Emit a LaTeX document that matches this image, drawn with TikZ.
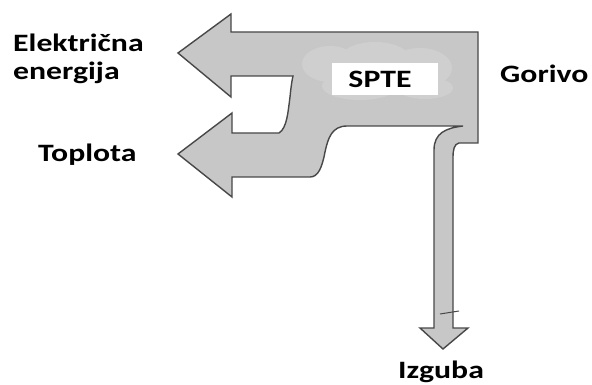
\documentclass[tikz,border=0pt]{standalone}
\usepackage{fontspec}
\setmainfont{Carlito}
\definecolor{arrowfill}{RGB}{199,199,199}
\definecolor{cloudfill}{RGB}{207,207,207}
\definecolor{edge}{RGB}{72,72,72}
\tikzset{
  lbl/.style={inner sep=0pt, font=\fontsize{25}{30}\selectfont\bfseries, text=black},
  flow/.style={fill=arrowfill, draw=edge, line width=1.4pt, line join=miter},
}
\newcommand{\wide}[1]{\scalebox{1.27}[1]{#1}}
\begin{document}
\begin{tikzpicture}[x=1pt,y=-1pt]
\useasboundingbox (0,0) rectangle (592,385);
% main flow shape
\draw[flow]
  (178,53) -- (231,14) -- (231,32) -- (478,32) -- (478,143) -- (459,143)
  .. controls (454,144) and (453,150) .. (453,158)
  -- (453,328) -- (468,328) -- (443,349) -- (420,328) -- (434,328)
  -- (434,150)
  .. controls (434,133) and (446,128) .. (463,126)
  -- (347,126)
  .. controls (332,126) and (328,138) .. (325,152)
  .. controls (322,168) and (318,177) .. (310,177)
  -- (232,177) -- (232,197) -- (178,154) -- (232,113) -- (232,133)
  -- (279,133)
  .. controls (287,128) and (288,112) .. (290,97)
  .. controls (291,87) and (292,80) .. (293,76)
  -- (231,76) -- (231,97) -- cycle;
% faint cloud behind label
\fill[cloudfill] (330,64) ellipse (28 and 18);
\fill[cloudfill] (375,60) ellipse (36 and 18);
\fill[cloudfill] (420,68) ellipse (32 and 20);
\fill[cloudfill] (360,86) ellipse (38 and 14);
\fill[cloudfill] (425,88) ellipse (28 and 11);
% tick on the shaft
\draw[edge, line width=1pt] (440,314) -- (459,311);
% label box
\fill[white] (332,63) rectangle (438,95);
\node[lbl, anchor=base] (spte) at (380,88) {\wide{SPTE}};
% labels
\node[lbl, anchor=base west] (el) at (13,52) {\wide{Električna}};
\node[lbl, anchor=base west] (en) at (13,80) {\wide{energija}};
\node[lbl, anchor=base west] (top) at (38,162) {\wide{Toplota}};
\node[lbl, anchor=base west] (gor) at (500,83) {\wide{Gorivo}};
\node[lbl, anchor=base west] (izg) at (398,378) {\wide{Izguba}};
\end{tikzpicture}
\end{document}
